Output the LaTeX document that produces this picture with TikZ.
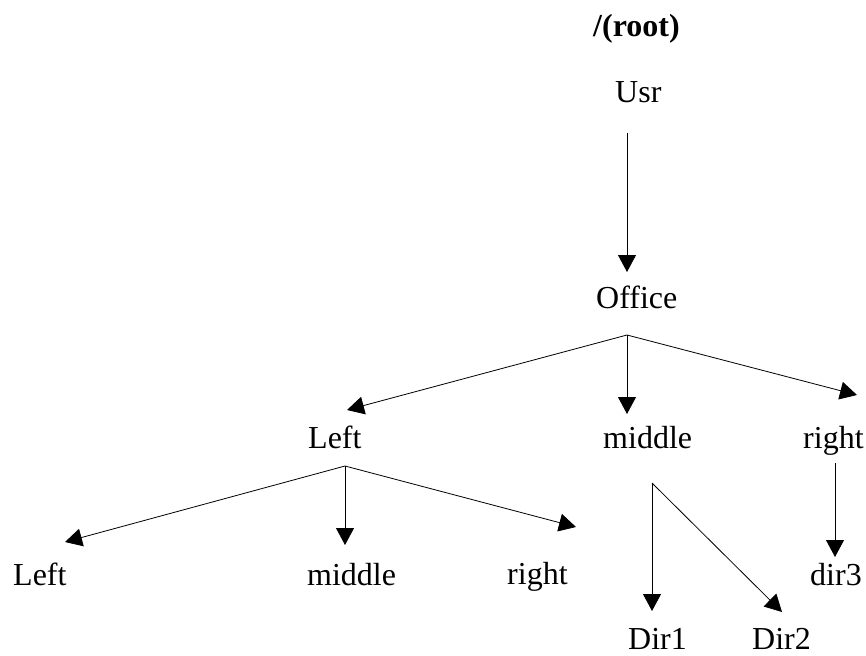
\documentclass[tikz,border=0pt]{standalone}
\usepackage{fontspec}
\setmainfont{Liberation Serif}
\usetikzlibrary{arrows.meta}
\begin{document}
\begin{tikzpicture}[x=1pt,y=-1pt,
  lbl/.style={anchor=base west,inner sep=0pt,font=\fontsize{32}{38}\selectfont},
  arr/.style={line width=0.8pt,-{Triangle[length=17pt,width=18pt]}}]
\useasboundingbox (0,0) rectangle (866,655);
% labels
\node[lbl,font=\fontsize{32}{38}\selectfont\bfseries] (root) at (593,37) {/(root)};
\node[lbl] (usr) at (615,103) {Usr};
\node[lbl] (office) at (596,308) {Office};
\node[lbl] (left1) at (308,448) {Left};
\node[lbl] (middle1) at (603,448) {middle};
\node[lbl] (right1) at (803,448) {right};
\node[lbl] (left2) at (13,585) {Left};
\node[lbl] (middle2) at (307,585) {middle};
\node[lbl] (right2) at (507,584) {right};
\node[lbl] (dir3) at (810,585) {dir3};
\node[lbl] (dir1) at (628,649) {Dir1};
\node[lbl] (dir2) at (752,649) {Dir2};
% connector points
\coordinate (usrS) at (627,133);
\coordinate (offT) at (627,272);
\coordinate (j1) at (627,335);
\coordinate (leftT) at (347,410);
\coordinate (midT) at (627,414);
\coordinate (rightT) at (857,395);
\coordinate (j2) at (345,466);
\coordinate (l2T) at (65,542);
\coordinate (m2T) at (345,545);
\coordinate (r2T) at (576,527);
\coordinate (j3) at (652,483);
\coordinate (d1T) at (652,611);
\coordinate (d2T) at (782,612);
\coordinate (rS) at (835,463);
\coordinate (d3T) at (835,557);
% connectors
\draw[arr] (usrS) -- (offT);
\draw[arr] (j1) -- (leftT);
\draw[arr] (j1) -- (midT);
\draw[arr] (j1) -- (rightT);
\draw[arr] (j2) -- (l2T);
\draw[arr] (j2) -- (m2T);
\draw[arr] (j2) -- (r2T);
\draw[arr] (j3) -- (d1T);
\draw[arr] (j3) -- (d2T);
\draw[arr] (rS) -- (d3T);
\end{tikzpicture}
\end{document}
